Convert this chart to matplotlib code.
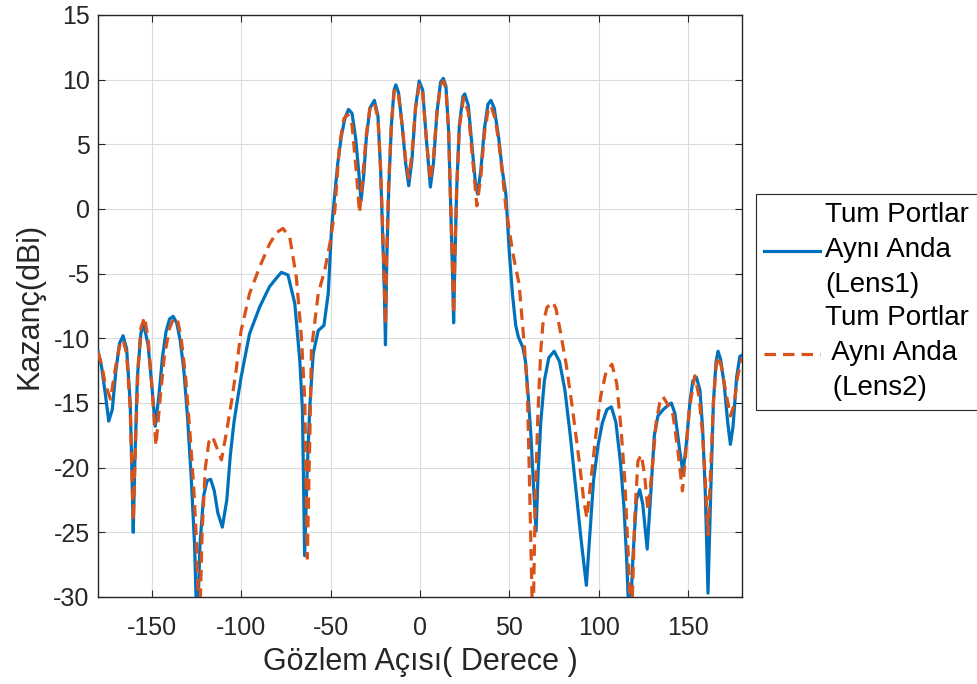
import matplotlib
matplotlib.use("Agg")
import matplotlib.pyplot as plt

plt.rcParams['font.family'] = ['Liberation Sans', 'DejaVu Sans']
plt.rcParams['axes.unicode_minus'] = False

# Lens1 (blue, solid)
lens1_angle = [-180, -178, -176, -174, -172, -170, -168, -166, -164, -162, -161, -160.3, -159.5, -158, -156,
               -154.5, -152, -150, -148, -146, -144, -142, -140, -138, -136, -134, -132, -130, -128, -126,
               -124.6, -123, -121, -119, -117, -115, -113, -110.5, -108, -106, -104, -102, -100, -95.3, -89.7,
               -84.1, -80, -77.5, -73.8, -70, -67.2, -65.7, -64.5, -63, -61.6, -59.7, -56.9, -53.7, -51.3,
               -49.4, -48, -46, -44, -42, -40, -38, -36, -34, -33, -31.5, -30, -28, -25.5, -23.5, -22, -21,
               -20, -19.3, -18.6, -17.5, -16, -14.5, -13.5, -12, -10, -8, -6.3, -4.5, -2.5, -0.5, 1.5, 3.5,
               5.8, 7.5, 9.5, 11.5, 13, 14.5, 16, 17, 18, 18.8, 19.5, 20.5, 22, 24, 25, 27, 29, 31, 32.2, 34,
               36, 38, 39.6, 41.5, 44, 46, 48, 50, 51.7, 53.5, 55, 57.5, 59, 60.5, 62, 63.5, 64.9, 66, 67.5,
               69.5, 72, 75, 78, 81, 84, 87, 90, 93, 95, 97, 99.5, 102, 104.5, 107, 109.5, 112, 114, 115.5,
               117.2, 119, 121, 122.8, 124.5, 127, 129, 131, 133, 136, 138.5, 140.5, 142.5, 145, 147, 149,
               151, 152.5, 154.5, 156.5, 158, 159.5, 161, 162.5, 164, 165.5, 166.6, 168, 170, 172, 173.5,
               175, 177, 178.8, 180]
lens1_gain = [-11.0, -12.2, -14.2, -16.4, -15.5, -12.5, -10.4, -9.8, -10.8, -15.0, -20.5, -25.0, -20.0, -13.0, -9.6,
              -8.9, -10.5, -13.5, -16.8, -14.5, -11.5, -9.5, -8.5, -8.3, -8.8, -10.2, -12.5, -16.0, -20.5, -26.0,
              -33.0, -26.0, -22.2, -21.0, -20.9, -21.8, -23.5, -24.6, -22.5, -19.0, -16.5, -14.7, -13.0, -9.65, -7.6,
              -6.0, -5.3, -4.9, -5.1, -7.3, -11.7, -15.6, -26.8, -20.0, -15.3, -11.2, -9.4, -9.0, -6.55,
              -1.4, 0.6, 3.5, 5.6, 7.0, 7.7, 7.4, 5.5, 2.5, 0.6, 2.5, 5.5, 7.8, 8.4, 7.2, 3.0, -1.5,
              -6.0, -10.5, -4.0, 1.5, 6.5, 9.2, 9.6, 9.0, 6.5, 3.5, 1.8, 3.8, 7.8, 9.9, 9.2, 5.5,
              1.7, 3.5, 7.5, 9.8, 10.1, 9.5, 6.0, 1.0, -4.0, -8.8, -4.0, 1.5, 6.5, 8.7, 8.9, 8.0, 5.0, 2.0, 1.15, 3.0,
              6.2, 8.1, 8.4, 7.8, 5.5, 3.0, 1.15, -3.5, -6.6, -9.0, -9.9, -10.7, -11.8, -14.5, -17.5, -21.5, -24.9, -20.5, -16.5,
              -13.3, -11.5, -11.0, -11.8, -14.0, -17.5, -21.5, -25.5, -29.1, -25.0, -21.0, -18.3, -16.5, -15.5, -15.3, -16.5, -19.5, -23.0, -27.0,
              -33.0, -27.0, -22.5, -21.7, -22.8, -26.3, -22.0, -17.5, -16.0, -15.5, -15.2, -15.0, -15.8, -18.5, -20.4, -18.0,
              -14.8, -13.3, -13.0, -14.0, -17.0, -22.0, -29.7, -22.0, -15.0, -11.8, -11.0, -11.6, -13.5, -16.5, -18.2,
              -16.8, -13.0, -11.4, -11.3]

# Lens2 (orange, dashed)
lens2_angle = [-180, -178, -176, -173, -170.5, -168, -166, -164, -162, -160.3, -159, -157.5, -156, -154, -152,
               -150, -147.6, -145.5, -143, -140, -137.5, -135.5, -133.5, -131, -128.5, -126.5, -125, -123.3,
               -121.8, -120, -118, -116, -114, -111, -108.5, -105.6, -102.8, -100, -95.3, -89.7, -84.1, -80,
               -76.6, -72.8, -69.1, -66.3, -64.4, -63, -61.5, -60.7, -56.9, -53.2, -50, -47.6, -45, -42.5,
               -40.3, -38, -36, -33.8, -32, -30, -28, -25.5, -23.5, -22, -20.5, -19.3, -18.5, -17.5, -16,
               -14.5, -13.7, -12, -10, -8, -6.3, -4.5, -2.5, -0.4, 1.5, 3.5, 5.8, 7.5, 9.5, 11.5, 13, 14.5,
               16, 17, 18, 18.8, 19.5, 20.5, 22, 24.4, 27, 29, 31.8, 34, 36, 38, 39.6, 42, 44, 46, 48, 52,
               55.4, 58.4, 60, 61.2, 63.1, 64.5, 65.9, 67.5, 68.7, 71, 74.3, 76, 78.5, 81.7, 85, 89.2, 91.5,
               93.3, 95.5, 98.5, 101, 104, 107.3, 110, 112.5, 114.5, 116.5, 118.1, 120, 121.8, 123.7, 125.5,
               127.4, 129.5, 132.1, 134, 135.8, 138, 141.4, 144, 146.7, 148.5, 150.5, 153.6, 156, 158, 159.5,
               161, 162.5, 164, 165.5, 166.6, 168.5, 170.5, 173.5, 175.5, 177.5, 180]
lens2_gain = [-11.1, -12.0, -13.5, -14.7, -12.5, -10.6, -10.1, -11.2, -15.5, -24.1, -18.0, -12.0, -9.2, -8.35, -10.0,
              -13.5, -18.3, -15.0, -11.5, -9.2, -8.4, -8.6, -10.0, -13.0, -17.5, -21.5, -25.5, -33.0,
              -25.0, -20.0, -18.0, -17.6, -18.3, -19.4, -17.5, -15.1, -12.5, -9.4, -6.55, -4.5, -2.7, -1.8,
              -1.5, -2.2, -5.3, -9.9, -14.8, -27.0, -17.0, -10.9, -6.55, -4.7, -2.4, -0.1, 5.0, 7.0,
              7.3, 6.5, 3.5, -0.3, 2.5, 5.8, 7.8, 8.2, 7.0, 3.0, -3.0, -8.9, -3.0, 2.0, 6.5,
              9.0, 9.3, 8.8, 6.5, 3.8, 2.4, 4.3, 7.8, 9.6, 9.0, 5.5, 2.2, 4.0, 7.5, 9.6, 9.9, 9.3,
              6.0, 1.0, -3.5, -8.1, -3.5, 1.5, 6.3, 8.6, 7.5, 4.5, 0.25, 2.5, 5.8, 7.6, 8.0, 7.0, 5.2, 2.8, 0.1, -3.5,
              -5.8, -10.7, -14.0, -21.0, -33.0, -22.0, -15.9, -11.0, -8.9, -7.6, -7.2, -7.7, -9.5, -12.0, -15.2, -19.7, -22.5,
              -23.9, -21.0, -17.2, -14.5, -12.6, -12.0, -13.5, -17.2, -21.0, -27.0, -33.0, -24.0, -19.5, -19.0, -20.5,
              -23.3, -20.5, -16.4, -15.0, -14.5, -15.0, -15.9, -18.5, -21.8, -19.0, -15.5, -12.9, -14.5, -17.5, -21.0,
              -25.2, -20.0, -15.0, -12.2, -11.4, -12.2, -13.8, -16.0, -15.2, -13.0, -11.5]

x_ticks = [-150, -100, -50, 0, 50, 100, 150]
y_ticks = [-30, -25, -20, -15, -10, -5, 0, 5, 10, 15]
label1 = "Tum Portlar\nAynı Anda\n(Lens1)"
label2 = "Tum Portlar\n Aynı Anda\n (Lens2)"

fig = plt.figure(figsize=(9.78, 6.84), dpi=100)
ax = fig.add_axes([98/978, 1-597/684, (742-98)/978, (597-15)/684])

ax.plot(lens1_angle, lens1_gain, color='#0072BD', lw=2.3, label=label1, zorder=3)
ax.plot(lens2_angle, lens2_gain, color='#D95319', lw=2.3, ls=(0, (3.6, 2.2)), label=label2, zorder=4)

ax.set_xlim(-180, 180)
ax.set_ylim(-30, 15)
ax.set_xticks(x_ticks)
ax.set_yticks(y_ticks)
ax.tick_params(direction='in', top=True, right=True, labelsize=18, color='#262626', length=5)
ax.tick_params(axis='x', pad=14)
ax.tick_params(axis='y', pad=6)
ax.grid(True, color='#dcdcdc', lw=0.8)
ax.set_axisbelow(True)
for s in ax.spines.values():
    s.set_color('#262626')
    s.set_linewidth(1.0)
ax.set_xlabel('Gözlem Açısı( Derece )', fontsize=22, color='#262626', labelpad=5)
ax.set_ylabel('Kazanç(dBi)', fontsize=22, color='#262626', labelpad=6)
for t in ax.get_xticklabels() + ax.get_yticklabels():
    t.set_color('#262626')

leg = fig.legend(loc='upper left', bbox_to_anchor=(756/978, 1-194/684), fontsize=20,
                 frameon=True, fancybox=False, edgecolor='#262626', framealpha=1,
                 handlelength=2.0, handletextpad=0.2, labelspacing=0.25, borderpad=0.3,
                 borderaxespad=0)
leg.get_frame().set_linewidth(0.8)
for t in leg.get_texts():
    t.set_linespacing(1.45)

fig.savefig('out.png', dpi=100)
